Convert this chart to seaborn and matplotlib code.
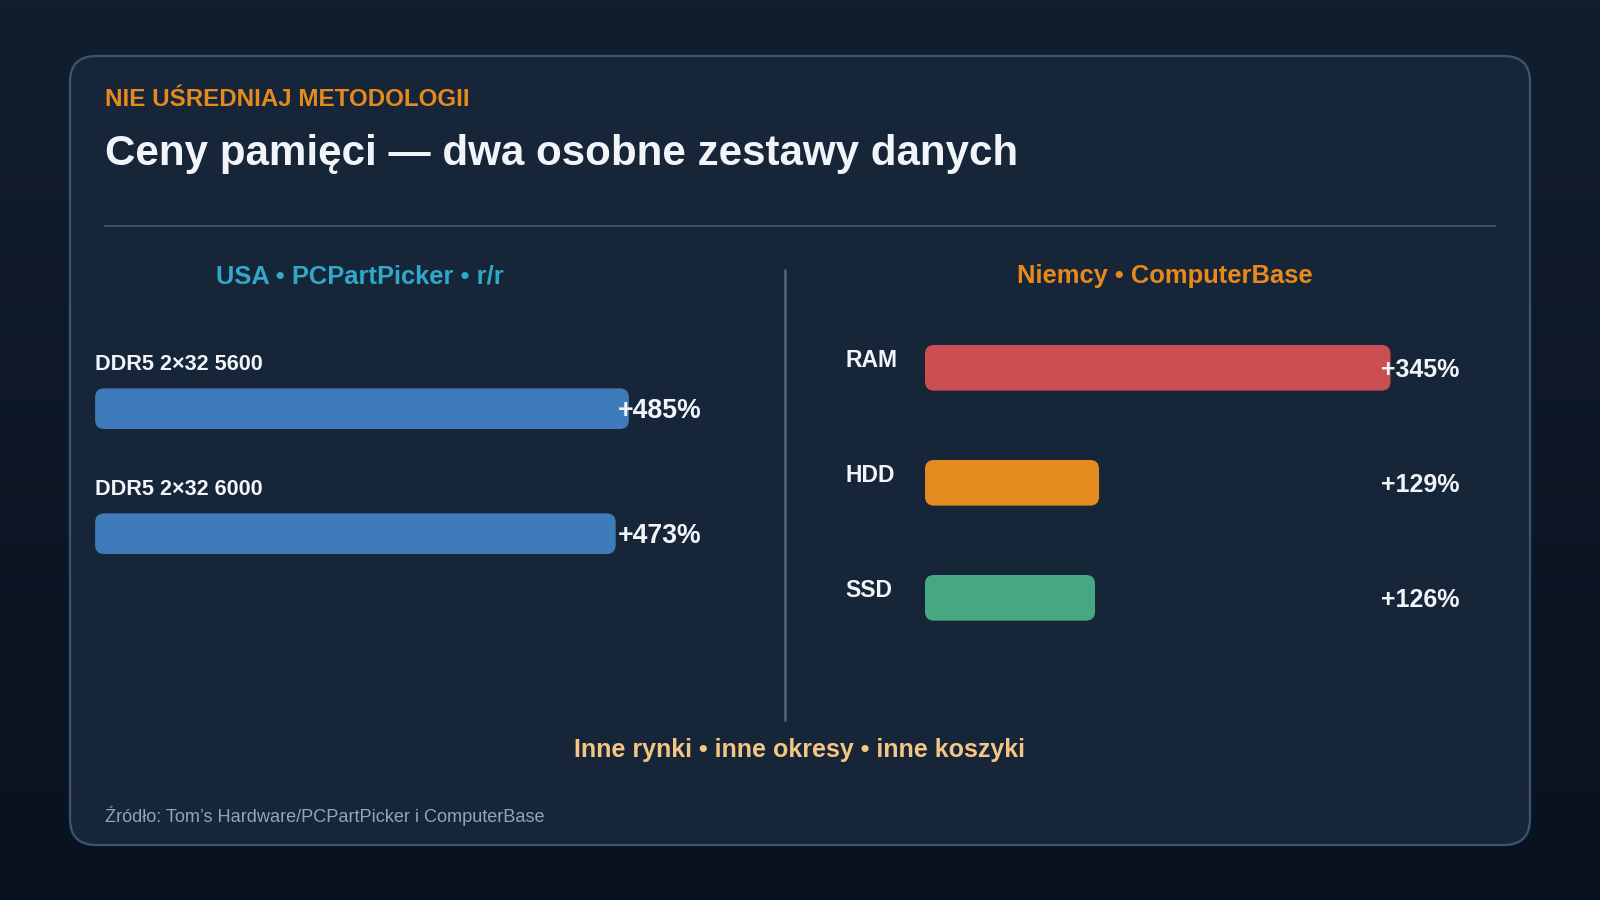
import matplotlib
matplotlib.use("Agg")

import matplotlib.pyplot as plt
import numpy as np
import seaborn as sns
from matplotlib.colors import LinearSegmentedColormap
from matplotlib.patches import FancyBboxPatch

# data
us_items = ["DDR5 2×32 5600", "DDR5 2×32 6000"]
us_growth = [485, 473]
de_items = ["RAM", "HDD", "SSD"]
de_growth = [345, 129, 126]

us_colors = ["#3D7BBA", "#3D7BBA"]
de_colors = ["#CB4F52", "#E38B1F", "#45A882"]

kicker = "NIE UŚREDNIAJ METODOLOGII"
title = "Ceny pamięci — dwa osobne zestawy danych"
us_header = "USA • PCPartPicker • r/r"
de_header = "Niemcy • ComputerBase"
footer = "Inne rynki • inne okresy • inne koszyki"
source = "Źródło: Tom’s Hardware/PCPartPicker i ComputerBase"

W, H = 1600, 900
WHITE = "#F1F5F9"


def px_box(x0, y0, x1, y1):
    return [x0 / W, 1 - y1 / H, (x1 - x0) / W, (y1 - y0) / H]


def round_bars(ax, radius_px):
    bbox = ax.get_window_extent()
    x_lo, x_hi = ax.get_xlim()
    y_lo, y_hi = ax.get_ylim()
    px_x = bbox.width / abs(x_hi - x_lo)
    px_y = bbox.height / abs(y_hi - y_lo)
    for patch in list(ax.patches):
        x, y = patch.get_x(), patch.get_y()
        w, h = patch.get_width(), patch.get_height()
        color = patch.get_facecolor()
        patch.remove()
        ax.add_patch(
            FancyBboxPatch(
                (x, y), w, h,
                boxstyle=f"round,pad=0,rounding_size={radius_px / px_x}",
                mutation_aspect=px_x / px_y,
                facecolor=color, edgecolor="none", zorder=2,
            )
        )


sns.set_theme(style="white")
plt.rcParams["font.family"] = ["Liberation Sans", "DejaVu Sans"]

fig = plt.figure(figsize=(16, 9), dpi=100)

# background + card
bg = fig.add_axes([0, 0, 1, 1])
grad = np.linspace(0, 1, 256).reshape(-1, 1)
cmap = LinearSegmentedColormap.from_list("bg", ["#121D2D", "#09121E"])
bg.imshow(grad, extent=[0, W, H, 0], aspect="auto", cmap=cmap, zorder=0)
bg.set_xlim(0, W)
bg.set_ylim(H, 0)
bg.axis("off")

bg.add_patch(FancyBboxPatch((70, 56), 1460, 789, boxstyle="round,pad=0,rounding_size=26",
                            facecolor="#172539", edgecolor="#3C5670", linewidth=1.6, zorder=1))
bg.plot([105, 1495], [225.5, 225.5], color="#3A536D", lw=1.5, zorder=2)
bg.plot([785, 785], [270, 720], color="#4A6079", lw=2, zorder=2)

bg.text(105, 106, kicker, color="#E58A1F", fontsize=17.4, fontweight="bold", va="baseline", zorder=3)
bg.text(105, 165, title, color=WHITE, fontsize=30.3, fontweight="bold", va="baseline", zorder=3)
bg.text(360, 283.3, us_header, color="#2FA9C7", fontsize=18.4, fontweight="bold",
        ha="center", va="baseline", zorder=3)
bg.text(1165, 283.3, de_header, color="#E8891E", fontsize=18.4, fontweight="bold",
        ha="center", va="baseline", zorder=3)
bg.text(800, 757, footer, color="#F4C684", fontsize=18, fontweight="bold",
        ha="center", va="baseline", zorder=3)
bg.text(105, 822, source, color="#94A3B6", fontsize=13.1, va="baseline", zorder=3)

# USA panel
ax_us = fig.add_axes(px_box(95.1, 283.7, 785, 658.7))
sns.barplot(x=us_growth, y=us_items, hue=us_items, palette=us_colors, legend=False,
            orient="h", width=0.325, saturation=1, ax=ax_us)
ax_us.set_xlim(0, 690 / 1.1008)
ax_us.set_ylim(2, -1)
ax_us.axis("off")
round_bars(ax_us, 9)
us_lab_x = max(us_growth) * 0.98
for i, (name, val) in enumerate(zip(us_items, us_growth)):
    ax_us.text(0, i - 0.31, name, color=WHITE, fontsize=15.6, fontweight="bold",
               ha="left", va="baseline", clip_on=False)
    ax_us.text(us_lab_x, i + 0.077, f"+{val}%", color=WHITE, fontsize=19.2, fontweight="bold",
               ha="left", va="baseline", clip_on=False, zorder=3)

# Germany panel
ax_de = fig.add_axes(px_box(925, 252.8, 1495, 712.8))
sns.barplot(x=de_growth, y=de_items, hue=de_items, palette=de_colors, legend=False,
            orient="h", width=0.397, saturation=1, ax=ax_de)
ax_de.set_xlim(0, 570 / 1.3493)
ax_de.set_ylim(3, -1)
ax_de.axis("off")
round_bars(ax_de, 9)
de_lab_x = max(de_growth) * 0.98
name_x = (845.4 - 925) / 1.3493
for i, (name, val) in enumerate(zip(de_items, de_growth)):
    ax_de.text(name_x, i - 0.01, name, color=WHITE, fontsize=16.5, fontweight="bold",
               ha="left", va="baseline", clip_on=False)
    ax_de.text(de_lab_x, i + 0.078, f"+{val}%", color=WHITE, fontsize=18, fontweight="bold",
               ha="left", va="baseline", clip_on=False, zorder=3)

fig.savefig("out.png", dpi=100)
